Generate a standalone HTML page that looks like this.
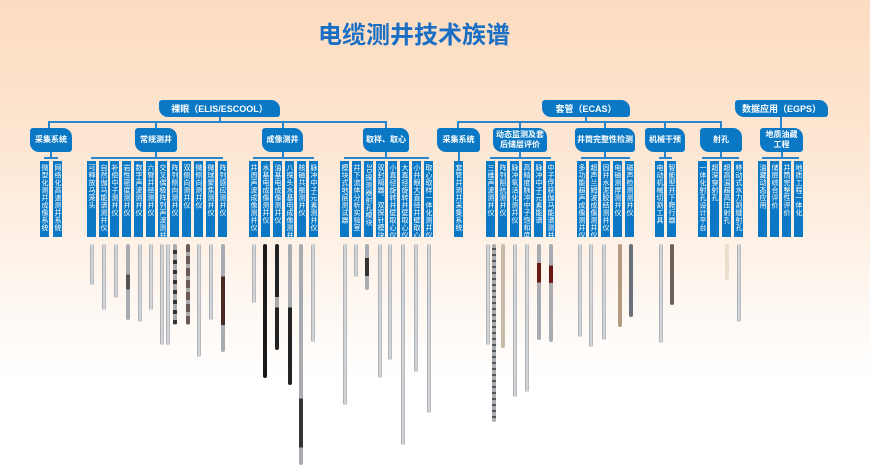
<!DOCTYPE html>
<html><head><meta charset="utf-8"><style>
*{margin:0;padding:0;box-sizing:border-box}
body{width:870px;height:474px;overflow:hidden;position:relative;background:linear-gradient(180deg,#fcdcc0 0%,#fde6d2 30%,#fef3ea 55%,#ffffff 80%);font-family:"Liberation Sans","Noto Sans CJK SC",sans-serif}
.t{position:absolute;left:318px;top:15px;font-size:24px;font-weight:bold;color:#1a6fc4;white-space:nowrap}
.n{position:absolute;background:#0a78c4;color:#fff;font-size:8px;font-weight:bold;display:flex;align-items:center;justify-content:center;text-align:center;line-height:10px;border-radius:3px 9px 3px 9px;white-space:nowrap}
.b{position:absolute;top:161px;width:9px;height:76px;background:#0a78c4;color:#fff;font-size:7px;line-height:9px;writing-mode:vertical-rl;text-align:left;padding-top:3px;overflow:hidden;white-space:nowrap;letter-spacing:0.5px}
.h{position:absolute;height:2px;background:#2a86cc}
.v{position:absolute;width:2px;background:#2a86cc}
.tl{position:absolute;top:244px;width:4px;background:linear-gradient(90deg,#9ca0a6,#e2e4e6,#a8acb0);border-radius:2px}
</style></head><body>
<div class="t">电缆测井技术族谱</div>

<div class="n" style="left:159px;top:100px;width:121px;height:17px;font-size:9px">裸眼（ELIS/ESCOOL）</div>
<div class="n" style="left:542px;top:100px;width:88px;height:17px;font-size:9px">套管（ECAS）</div>
<div class="n" style="left:735px;top:100px;width:93px;height:17px;font-size:9px">数据应用（EGPS）</div>

<div class="v" style="left:219px;top:117px;height:6px"></div>
<div class="h" style="left:48px;top:121px;width:339px"></div>
<div class="v" style="left:585px;top:117px;height:6px"></div>
<div class="h" style="left:457px;top:121px;width:265px"></div>
<div class="v" style="left:780px;top:117px;height:12px"></div>
<div class="v" style="left:48px;top:121px;height:8px"></div>
<div class="v" style="left:155px;top:121px;height:8px"></div>
<div class="v" style="left:282px;top:121px;height:8px"></div>
<div class="v" style="left:385px;top:121px;height:8px"></div>
<div class="v" style="left:457px;top:121px;height:8px"></div>
<div class="v" style="left:519px;top:121px;height:8px"></div>
<div class="v" style="left:604px;top:121px;height:8px"></div>
<div class="v" style="left:664px;top:121px;height:8px"></div>
<div class="v" style="left:720px;top:121px;height:8px"></div>

<div class="n" style="left:30px;top:128px;width:42px;height:24px">采集系统</div>
<div class="n" style="left:135px;top:128px;width:42px;height:24px">常规测井</div>
<div class="n" style="left:262px;top:128px;width:41px;height:24px">成像测井</div>
<div class="n" style="left:363px;top:128px;width:46px;height:24px">取样、取心</div>
<div class="n" style="left:437px;top:128px;width:43px;height:24px">采集系统</div>
<div class="n" style="left:493px;top:128px;width:54px;height:24px">动态监测及套<br>后储层评价</div>
<div class="n" style="left:575px;top:128px;width:60px;height:24px">井筒完整性检测</div>
<div class="n" style="left:645px;top:128px;width:40px;height:24px">机械干预</div>
<div class="n" style="left:700px;top:128px;width:42px;height:24px">射孔</div>
<div class="n" style="left:760px;top:128px;width:43px;height:24px">地质油藏<br>工程</div>

<div class="v" style="left:50px;top:152px;height:6px"></div><div class="h" style="left:44px;top:157px;width:14px"></div>
<div class="v" style="left:155px;top:152px;height:6px"></div><div class="h" style="left:91px;top:157px;width:132px"></div>
<div class="v" style="left:282px;top:152px;height:6px"></div><div class="h" style="left:253px;top:157px;width:61px"></div>
<div class="v" style="left:385px;top:152px;height:6px"></div><div class="h" style="left:344px;top:157px;width:85px"></div>
<div class="v" style="left:458px;top:152px;height:9px"></div>
<div class="v" style="left:519px;top:152px;height:6px"></div><div class="h" style="left:490px;top:157px;width:61px"></div>
<div class="v" style="left:604px;top:152px;height:6px"></div><div class="h" style="left:581px;top:157px;width:49px"></div>
<div class="v" style="left:664px;top:152px;height:6px"></div><div class="h" style="left:659px;top:157px;width:13px"></div>
<div class="v" style="left:720px;top:152px;height:6px"></div><div class="h" style="left:702px;top:157px;width:37px"></div>
<div class="v" style="left:781px;top:152px;height:6px"></div><div class="h" style="left:762px;top:157px;width:37px"></div>

<div class="b" style="left:40px">微型化测井成像系统</div>
<div class="b" style="left:53px">网络化高速测井系统</div>
<div class="b" style="left:87px">可释放马笼头</div>
<div class="b" style="left:99px">自然伽马能谱测井仪</div>
<div class="b" style="left:110px">补偿中子测井仪</div>
<div class="b" style="left:122px">岩性密度测井仪</div>
<div class="b" style="left:134px">数字声波测井仪</div>
<div class="b" style="left:146px">六臂井径测井仪</div>
<div class="b" style="left:158px">交叉偶极阵列声波测井仪</div>
<div class="b" style="left:170px">阵列侧向测井仪</div>
<div class="b" style="left:182px">双侧向测井仪</div>
<div class="b" style="left:194px">微侧向测井仪</div>
<div class="b" style="left:206px">微球聚焦测井仪</div>
<div class="b" style="left:218px">阵列感应测井仪</div>
<div class="b" style="left:249px">井周声波成像测井仪</div>
<div class="b" style="left:261px">水基电成像测井仪</div>
<div class="b" style="left:273px">油基电成像测井仪</div>
<div class="b" style="left:285px">八探头水基电成像测井仪</div>
<div class="b" style="left:297px">核磁共振测井仪</div>
<div class="b" style="left:309px">脉冲中子元素测井仪</div>
<div class="b" style="left:340px">模块式地层测试器</div>
<div class="b" style="left:352px">井下流体分析实验室</div>
<div class="b" style="left:364px">3D探测器射孔模块</div>
<div class="b" style="left:376px">双封隔器、双探针模块</div>
<div class="b" style="left:388px">小直径旋转井壁取心仪</div>
<div class="b" style="left:400px">大直径旋转井壁取心仪</div>
<div class="b" style="left:412px">小井眼大直径井壁取心仪</div>
<div class="b" style="left:424px">取心取样一体化测井仪</div>
<div class="b" style="left:454px">套管井测井采集系统</div>
<div class="b" style="left:486px">三维声波测井仪</div>
<div class="b" style="left:498px">阵列阻抗测井仪</div>
<div class="b" style="left:510px">脉冲氧活化测井仪</div>
<div class="b" style="left:522px">高精度脉冲中子饱和度</div>
<div class="b" style="left:534px">脉冲中子元素能谱</div>
<div class="b" style="left:546px">中子俘获伽马能谱测井仪</div>
<div class="b" style="left:577px">多功能超声成像测井仪</div>
<div class="b" style="left:589px">超声兰姆波成像测井仪</div>
<div class="b" style="left:601px">固井水泥胶结测井仪</div>
<div class="b" style="left:613px">电磁测厚测井仪</div>
<div class="b" style="left:625px">磁声检测测井仪</div>
<div class="b" style="left:655px">电动机械切割工具</div>
<div class="b" style="left:667px">智能型井下爬行器</div>
<div class="b" style="left:698px">一体化射孔设计平台</div>
<div class="b" style="left:710px">超深穿射孔</div>
<div class="b" style="left:722px">超高温超高压射孔</div>
<div class="b" style="left:734px">移动式水力割缝射孔</div>
<div class="b" style="left:758px">油藏动态应用</div>
<div class="b" style="left:770px">储层综合评价</div>
<div class="b" style="left:782px">井筒完整性评价</div>
<div class="b" style="left:794px">地质工程一体化</div>

<div class="tl" style="left:90px;height:41px"></div>
<div class="tl" style="left:102px;height:66px"></div>
<div class="tl" style="left:114px;height:54px"></div>
<div class="tl" style="left:126px;height:76px;background:linear-gradient(180deg,#a8acb0 40%,#555 40%,#555 60%,#a8acb0 60%)"></div>
<div class="tl" style="left:138px;height:78px"></div>
<div class="tl" style="left:149px;height:66px"></div>
<div class="tl" style="left:160px;height:101px"></div>
<div class="tl" style="left:166px;height:101px"></div>
<div class="tl" style="left:173px;height:81px;background:repeating-linear-gradient(180deg,#a8acb0 0 6px,#333 6px 10px)"></div>
<div class="tl" style="left:186px;height:81px;background:repeating-linear-gradient(180deg,#6a5a55 0 8px,#aaa 8px 12px)"></div>
<div class="tl" style="left:197px;height:113px"></div>
<div class="tl" style="left:209px;height:76px"></div>
<div class="tl" style="left:221px;height:108px;background:linear-gradient(180deg,#a8acb0 30%,#4a2a25 30%,#4a2a25 75%,#a8acb0 75%)"></div>
<div class="tl" style="left:252px;height:59px"></div>
<div class="tl" style="left:263px;height:134px;background:#1a1a1a"></div>
<div class="tl" style="left:275px;height:106px;background:linear-gradient(180deg,#222 50%,#aaa 50%,#aaa 60%,#222 60%)"></div>
<div class="tl" style="left:288px;height:141px;background:linear-gradient(180deg,#a8acb0 45%,#222 45%)"></div>
<div class="tl" style="left:299px;height:221px;background:linear-gradient(180deg,#a8acb0 70%,#333 70%,#333 92%,#a8acb0 92%)"></div>
<div class="tl" style="left:311px;height:98px"></div>
<div class="tl" style="left:343px;height:161px"></div>
<div class="tl" style="left:354px;height:33px"></div>
<div class="tl" style="left:365px;height:46px;background:linear-gradient(180deg,#a8acb0 30%,#333 30%,#333 70%,#a8acb0 70%)"></div>
<div class="tl" style="left:378px;height:134px"></div>
<div class="tl" style="left:388px;height:116px"></div>
<div class="tl" style="left:401px;height:201px"></div>
<div class="tl" style="left:414px;height:128px"></div>
<div class="tl" style="left:427px;height:169px"></div>
<div class="tl" style="left:486px;height:101px"></div>
<div class="tl" style="left:492px;height:178px;background:repeating-linear-gradient(180deg,#a8acb0 0 4px,#555 4px 6px)"></div>
<div class="tl" style="left:501px;height:104px;background:#c8b9a8"></div>
<div class="tl" style="left:513px;height:153px"></div>
<div class="tl" style="left:525px;height:148px"></div>
<div class="tl" style="left:537px;height:96px;background:linear-gradient(180deg,#a8acb0 20%,#6a1a15 20%,#6a1a15 40%,#a8acb0 40%)"></div>
<div class="tl" style="left:549px;height:98px;background:linear-gradient(180deg,#a8acb0 22%,#6a1a15 22%,#6a1a15 40%,#a8acb0 40%)"></div>
<div class="tl" style="left:578px;height:93px"></div>
<div class="tl" style="left:589px;height:103px"></div>
<div class="tl" style="left:602px;height:96px"></div>
<div class="tl" style="left:618px;height:83px;background:#b39a80"></div>
<div class="tl" style="left:629px;height:73px;background:#6a7078"></div>
<div class="tl" style="left:659px;height:99px"></div>
<div class="tl" style="left:670px;height:61px;background:#6a625a"></div>
<div class="tl" style="left:725px;height:36px;background:#e8e0cc"></div>
<div class="tl" style="left:737px;height:78px"></div>
</body></html>
